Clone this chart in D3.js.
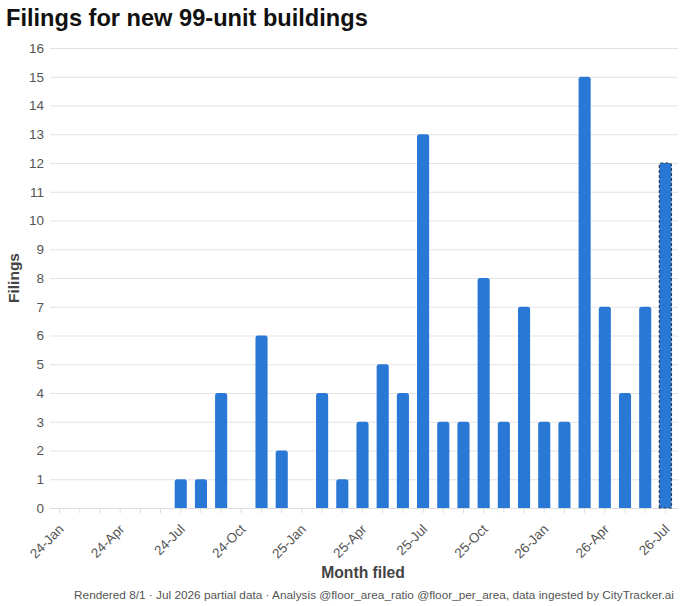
<!DOCTYPE html>
<html>
<head>
<meta charset="utf-8">
<script src="https://cdn.jsdelivr.net/npm/d3@7"></script>
<style>
  body { margin: 0; background: #fff; font-family: "Liberation Sans", Arial, sans-serif; }
</style>
</head>
<body>
<div id="chart"></div>
<script>
var width = 680;
var height = 606;

// months from 24-Jan through 26-Jul
var months = ["24-Jan","24-Feb","24-Mar","24-Apr","24-May","24-Jun","24-Jul","24-Aug","24-Sep","24-Oct","24-Nov","24-Dec",
              "25-Jan","25-Feb","25-Mar","25-Apr","25-May","25-Jun","25-Jul","25-Aug","25-Sep","25-Oct","25-Nov","25-Dec",
              "26-Jan","26-Feb","26-Mar","26-Apr","26-May","26-Jun","26-Jul"];
var filings = [0,0,0,0,0,0,1,1,4,0,6,2,
               0,4,1,3,5,4,13,3,3,8,3,7,
               3,3,15,7,4,7,12];
var labelMonths = ["24-Jan","24-Apr","24-Jul","24-Oct","25-Jan","25-Apr","25-Jul","25-Oct","26-Jan","26-Apr","26-Jul"];
var yTicks = d3.range(0, 17);
var partialMonth = "26-Jul";

var margin = {top: 48, right: 5, bottom: 98, left: 49.5};

var svg = d3.select("#chart")
            .append("svg")
            .attr("width", width)
            .attr("height", height);

var x = d3.scaleBand()
          .domain(months)
          .range([margin.left, 675.5])
          .paddingInner(0.4)
          .paddingOuter(0.2);

var y = d3.scaleLinear()
          .domain([0, 16])
          .range([508, margin.top]);

// gridlines
svg.append("g")
   .selectAll("line")
   .data(yTicks)
   .enter()
   .append("line")
   .attr("x1", 50)
   .attr("x2", 678)
   .attr("y1", function(d){ return y(d) + 0.5; })
   .attr("y2", function(d){ return y(d) + 0.5; })
   .attr("stroke", "#e3e3e3")
   .attr("stroke-width", 1);

// y axis labels
var yAxis = d3.axisLeft(y).tickValues(yTicks).tickSize(0).tickPadding(6);
var yg = svg.append("g")
   .attr("transform", "translate(50,0)")
   .call(yAxis);
yg.select(".domain").remove();
yg.selectAll("text")
  .attr("fill", "#555")
  .style("font-size", "13.5px")
  .style("font-family", "Liberation Sans, Arial, sans-serif");

// x axis
var xAxis = d3.axisBottom(x)
              .tickSize(5)
              .tickFormat(function(d){ return labelMonths.indexOf(d) >= 0 ? d : ""; });
var xg = svg.append("g")
   .attr("transform", "translate(0,508)")
   .call(xAxis);
xg.select(".domain").attr("stroke", "#ddd").attr("d", "M50,0.5H678");
xg.selectAll(".tick line").attr("stroke", "#ddd");
xg.selectAll("text")
  .attr("fill", "#555")
  .style("font-size", "13.5px")
  .style("font-family", "Liberation Sans, Arial, sans-serif")
  .attr("text-anchor", "end")
  .attr("dy", null)
  .attr("y", 0)
  .attr("transform", "translate(5,22) rotate(-45)");

// bars
svg.append("g")
   .selectAll("path")
   .data(months.map(function(m, i){ return {month: m, value: filings[i]}; }).filter(function(d){ return d.value > 0; }))
   .enter()
   .append("path")
   .attr("d", function(d){
       var x0 = x(d.month), w = x.bandwidth(), y0 = y(d.value), yb = y(0), r = 2.5;
       return "M" + x0 + "," + yb +
              "V" + (y0 + r) +
              "Q" + x0 + "," + y0 + " " + (x0 + r) + "," + y0 +
              "H" + (x0 + w - r) +
              "Q" + (x0 + w) + "," + y0 + " " + (x0 + w) + "," + (y0 + r) +
              "V" + yb + "Z";
   })
   .attr("fill", "#2a78d6")
   .attr("stroke", function(d){ return d.month === partialMonth ? "#2b3a55" : "none"; })
   .attr("stroke-width", 1.2)
   .attr("stroke-dasharray", function(d){ return d.month === partialMonth ? "3,2" : null; });

// title
svg.append("text")
   .attr("x", 6)
   .attr("y", 26)
   .attr("fill", "#111")
   .style("font-size", "23.6px")
   .style("font-weight", "bold")
   .text("Filings for new 99-unit buildings");

// axis titles
svg.append("text")
   .attr("transform", "translate(19,278) rotate(-90)")
   .attr("text-anchor", "middle")
   .attr("fill", "#444")
   .style("font-size", "15.5px")
   .style("font-weight", "bold")
   .text("Filings");

svg.append("text")
   .attr("x", 363)
   .attr("y", 578)
   .attr("text-anchor", "middle")
   .attr("fill", "#444")
   .style("font-size", "15.7px")
   .style("font-weight", "bold")
   .text("Month filed");

// footer
svg.append("text")
   .attr("x", 674)
   .attr("y", 599)
   .attr("text-anchor", "end")
   .attr("fill", "#555")
   .style("font-size", "11.8px")
   .text("Rendered 8/1 \u00b7 Jul 2026 partial data \u00b7 Analysis @floor_area_ratio @floor_per_area, data ingested by CityTracker.ai");
</script>
</body>
</html>
